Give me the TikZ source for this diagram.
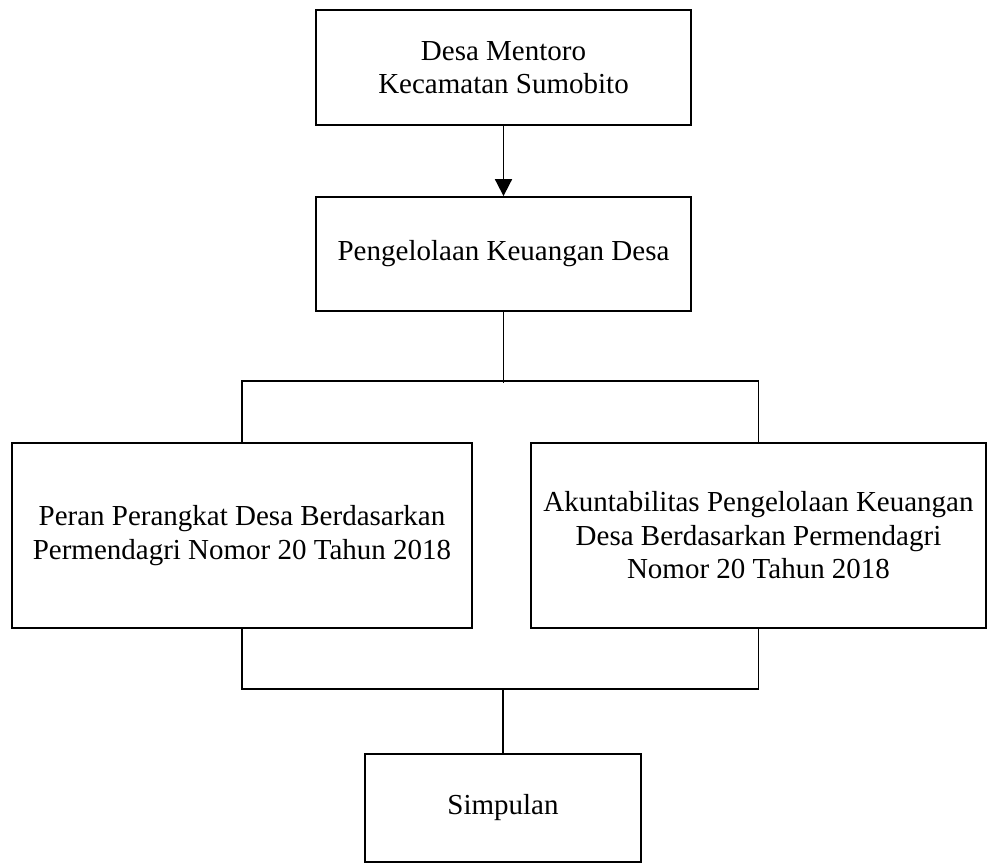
\documentclass[tikz,border=0pt]{standalone}
\usepackage{fontspec}
\setmainfont{Liberation Serif}
\usetikzlibrary{arrows.meta}
\begin{document}
\begin{tikzpicture}[x=1pt,y=-1pt,
  boxstyle/.style={draw,line width=1.8pt,align=center,inner sep=0pt,
    font=\fontsize{29}{33.5}\selectfont},
  conn/.style={line width=1.8pt},
  arr/.style={line width=1.8pt,-{Triangle[length=17pt,width=17pt]}}]
\useasboundingbox (0,0) rectangle (988,864);
\node[boxstyle,minimum width=375pt,minimum height=115pt] (top) at (503.5,67.5) {Desa Mentoro\\Kecamatan Sumobito};
\node[boxstyle,minimum width=375pt,minimum height=114pt] (peng) at (503.5,254) {Pengelolaan Keuangan Desa};
\node[boxstyle,minimum width=460pt,minimum height=185pt] (left) at (242,535.5) {Peran Perangkat Desa Berdasarkan\\Permendagri Nomor 20 Tahun 2018};
\node[boxstyle,minimum width=455pt,minimum height=185pt] (right) at (758.5,535.5) {Akuntabilitas Pengelolaan Keuangan\\Desa Berdasarkan Permendagri\\Nomor 20 Tahun 2018};
\node[boxstyle,minimum width=276pt,minimum height=108pt] (simp) at (503,808) {Simpulan};
\draw[arr] (top.south) -- (peng.north);
\draw[conn] (peng.south) -- ++(0,71) coordinate (j1);
\draw[conn] (left.north) -- ++(0,-61) -| (right.north);
\draw[conn] (left.south) -- ++(0,60) -| (right.south);
\draw[conn] (left.south) ++(0,60) -| (simp.north);
\end{tikzpicture}
\end{document}
